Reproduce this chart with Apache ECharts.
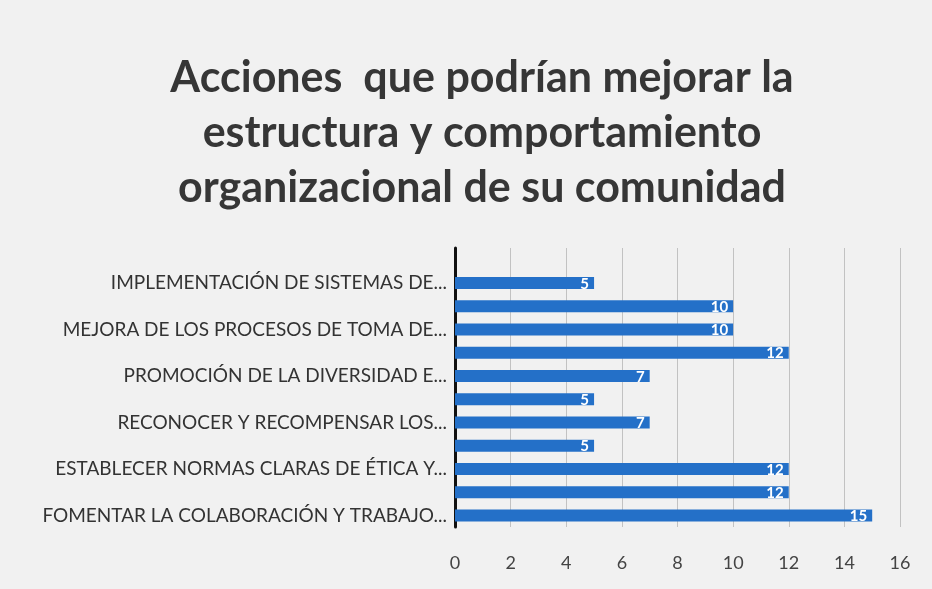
<!DOCTYPE html>
<html>
<head>
<meta charset="utf-8">
<script src="https://cdn.jsdelivr.net/npm/echarts@6/dist/echarts.min.js"></script>
<style>
  html, body { margin: 0; padding: 0; background: #e9e9e9; }
  #chart { width: 932px; height: 589px; }
</style>
</head>
<body>
<div id="chart"></div>
<script>
// categories from bottom to top; only every other label is printed in the source,
// and the top slot of the axis is empty
const categories = [
  "FOMENTAR LA COLABORACIÓN Y TRABAJO...",
  "ACCIÓN 2",
  "ESTABLECER NORMAS CLARAS DE ÉTICA Y...",
  "ACCIÓN 4",
  "RECONOCER Y RECOMPENSAR LOS...",
  "ACCIÓN 6",
  "PROMOCIÓN DE LA DIVERSIDAD E...",
  "ACCIÓN 8",
  "MEJORA DE LOS PROCESOS DE TOMA DE...",
  "ACCIÓN 10",
  "IMPLEMENTACIÓN DE SISTEMAS DE...",
  " "
];
const values = [15, 12, 12, 5, 7, 5, 7, 12, 10, 10, 5, null];
const titleText = "Acciones  que podrían mejorar la\nestructura y comportamiento\norganizacional de su comunidad";

const chart = echarts.init(document.getElementById("chart"));
const option = {
  backgroundColor: "#f1f1f1",
  textStyle: { fontFamily: "Lato" },
  title: {
    text: titleText,
    left: 477,
    top: 46,
    textAlign: "center",
    textStyle: {
      fontFamily: "Lato",
      fontSize: 43,
      fontWeight: "bold",
      color: "#363636",
      lineHeight: 55
    }
  },
  grid: {
    left: 455,
    right: 32,
    top: 248,
    bottom: 62
  },
  xAxis: {
    type: "value",
    min: 0,
    max: 16,
    interval: 2,
    axisLine: { show: false },
    axisTick: { show: false },
    splitLine: { lineStyle: { color: "#c2c2c2", width: 1 } },
    axisLabel: { color: "#444", fontSize: 18, margin: 27 }
  },
  yAxis: {
    type: "category",
    data: categories,
    axisLine: { lineStyle: { color: "#111", width: 3 } },
    axisTick: { show: false },
    axisLabel: { interval: 1, color: "#333", fontSize: 19, margin: 8 }
  },
  series: [
    {
      type: "bar",
      data: values,
      barWidth: 12,
      itemStyle: { color: "#2470c8" },
      label: {
        show: true,
        position: "insideRight",
        color: "#fff",
        fontSize: 15,
        fontWeight: "bold",
        offset: [0, 1]
      }
    }
  ]
};
chart.setOption(option);
</script>
</body>
</html>
